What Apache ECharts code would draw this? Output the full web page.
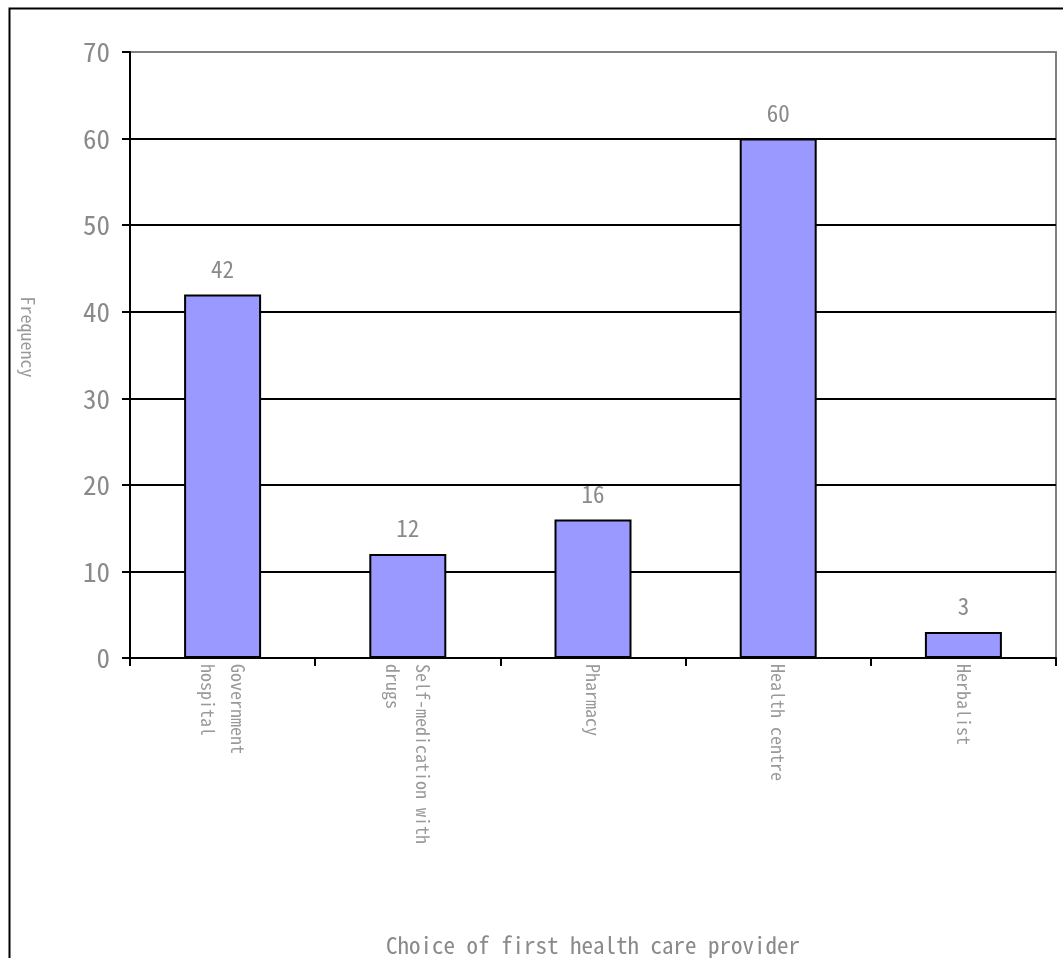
<!DOCTYPE html>
<html>
<head>
<meta charset="utf-8">
<script src="https://cdn.jsdelivr.net/npm/echarts@6/dist/echarts.min.js"></script>
<style>html,body{margin:0;padding:0;background:#fff;}#c{width:1063px;height:958px;}</style>
</head>
<body>
<div id="c"></div>
<script>
const categories = ["Government\nhospital", "Self-medication with\ndrugs", "Pharmacy", "Health centre", "Herbalist"];
const values = [42, 12, 16, 60, 3];
const yTicks = { min: 0, max: 70, interval: 10 };
const xTitle = "Choice of first health care provider";
const yTitle = "Frequency";

const FONT = "'Noto Sans Mono CJK JP', 'Liberation Sans Narrow', 'Liberation Mono', monospace";
const chart = echarts.init(document.getElementById('c'), null, { renderer: 'canvas' });
chart.setOption({
  animation: false,
  backgroundColor: '#fff',
  textStyle: { fontFamily: FONT },
  graphic: [{
    type: 'rect', left: 7, top: 6, silent: true,
    shape: { width: 1080, height: 980 },
    style: { fill: 'none', stroke: '#000', lineWidth: 2 }
  }],
  grid: {
    left: 130, top: 52, right: 7, bottom: 300,
    outerBoundsMode: 'none',
    containLabel: false,
    show: true, borderColor: '#808080', borderWidth: 2, backgroundColor: 'transparent'
  },
  xAxis: {
    type: 'category',
    data: categories,
    name: xTitle,
    nameLocation: 'middle',
    nameGap: 276,
    nameTextStyle: { color: '#8a8a8a', fontSize: 23, fontFamily: FONT },
    axisLine: { lineStyle: { color: '#000', width: 2 } },
    axisTick: { show: true, length: 8, lineStyle: { color: '#000', width: 2 } },
    axisLabel: { rotate: -90, margin: 6, color: '#999', fontSize: 18, lineHeight: 30, fontFamily: FONT, align: 'left', interval: 0 }
  },
  yAxis: {
    type: 'value',
    min: yTicks.min, max: yTicks.max, interval: yTicks.interval,
    name: yTitle,
    nameLocation: 'middle',
    nameRotate: -90,
    nameGap: 93,
    nameTextStyle: { color: '#999', fontSize: 18, fontFamily: FONT, padding: [0, 36, 0, 0] },
    axisLine: { show: true, lineStyle: { color: '#000', width: 2 } },
    axisTick: { show: true, length: 8, lineStyle: { color: '#000', width: 2 } },
    axisLabel: { color: '#8a8a8a', fontSize: 27, margin: 20, fontFamily: FONT },
    splitLine: { show: true, lineStyle: { color: ['#000','#000','#000','#000','#000','#000','#000','#808080'], width: 2 } }
  },
  series: [{
    type: 'bar',
    data: values,
    barWidth: 77,
    itemStyle: { color: '#9999FF', borderColor: '#000', borderWidth: 2 },
    label: { show: true, position: 'top', distance: 14, color: '#8a8a8a', fontSize: 23, fontFamily: FONT }
  }]
});
</script>
</body>
</html>
